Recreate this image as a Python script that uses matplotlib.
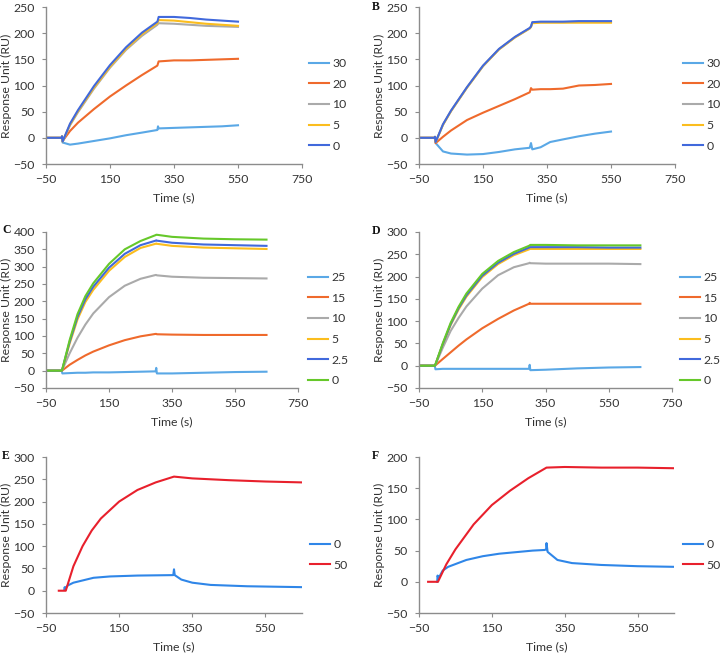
import numpy as np
import matplotlib
matplotlib.use("Agg")
import matplotlib.pyplot as plt

plt.rcParams['font.family'] = ['Lato', 'DejaVu Sans']
FS = 8.8
TXT = "#333333"
AXC = "#8c8c8c"

# Excel-like palette
LB, OR, GR, YE, BL, GN = "#5aa8e6", "#ef6a2c", "#aaaaaa", "#fbbd1e", "#4169dc", "#66c82a"
EB, ER = "#2f86e8", "#e8202c"

# ---- panel A (s, RU) ----
T_A = [-50, -1, 0, 2, 25, 50, 100, 150, 200, 250, 298, 300, 302, 350, 400, 450, 500, 550]
A_30 = [0, 0, -3, -9, -13, -11, -6, -1, 5, 10, 15, 22, 18, 19, 20, 21, 22, 24]
A_20 = [0, 0, 2, -6, 13, 29, 55, 79, 100, 120, 138, 142, 146, 148, 148, 149, 150, 151]
A_10 = [0, 0, 3, -7, 24, 49, 94, 134, 168, 195, 216, 218, 219, 218, 216, 214, 213, 212]
A_5 = [0, 0, 3, -7, 25, 51, 96, 136, 170, 198, 219, 222, 225, 224, 221, 218, 216, 214]
A_0 = [0, 0, 3, -7, 27, 53, 99, 139, 173, 201, 222, 226, 231, 231, 229, 226, 224, 222]

# ---- panel B ----
T_B = [-50, -1, 0, 2, 25, 50, 100, 150, 200, 250, 296, 300, 304, 330, 360, 400, 450, 500, 550]
B_30 = [0, 0, -3, -10, -26, -30, -32, -31, -27, -22, -19, -10, -22, -18, -8, -3, 3, 8, 12]
B_20 = [0, 0, -2, -10, 2, 14, 34, 48, 61, 74, 87, 95, 92, 93, 93, 94, 100, 101, 103]
B_10 = [0, 0, 2, -8, 25, 51, 96, 137, 169, 192, 209, 212, 220, 221, 221, 221, 222, 222, 222]
B_5 = [0, 0, 2, -8, 25, 51, 96, 137, 169, 192, 209, 212, 219, 220, 220, 220, 220, 220, 220]
B_0 = [0, 0, 2, -8, 26, 52, 97, 138, 170, 193, 210, 213, 221, 222, 222, 222, 223, 223, 223]

# ---- panel C ----
T_C = [-50, -1, 0, 2, 25, 50, 75, 100, 150, 200, 250, 298, 300, 302, 350, 450, 550, 650]
C_25 = [0, 0, 0, -8, -7, -6, -6, -5, -5, -4, -3, -2, 8, -8, -8, -6, -4, -3]
C_15 = [0, 0, 0, 1, 17, 31, 44, 55, 73, 88, 99, 106, 106, 105, 104, 103, 103, 103]
C_10 = [0, 0, 0, 3, 50, 95, 133, 165, 212, 245, 265, 276, 276, 275, 271, 268, 267, 266]
C_5 = [0, 0, 0, 4, 78, 148, 198, 233, 288, 328, 354, 366, 367, 366, 360, 355, 353, 351]
C_2_5 = [0, 0, 0, 5, 83, 155, 206, 242, 297, 337, 362, 375, 376, 375, 369, 364, 362, 360]
C_0 = [0, 0, 0, 5, 88, 163, 215, 252, 308, 350, 374, 391, 392, 392, 386, 381, 379, 378]

# ---- panel D ----
T_D = T_C
D_25 = [0, 0, 0, -8, -7, -7, -7, -7, -7, -7, -7, -7, 2, -10, -9, -6, -4, -3]
D_15 = [0, 0, 0, 1, 15, 30, 45, 59, 84, 105, 124, 139, 141, 139, 139, 139, 139, 139]
D_10 = [0, 0, 0, 2, 40, 78, 107, 133, 173, 203, 221, 230, 231, 230, 229, 229, 229, 228]
D_5 = [0, 0, 0, 3, 47, 91, 126, 155, 199, 228, 248, 261, 262, 262, 262, 262, 262, 262]
D_2_5 = [0, 0, 0, 3, 48, 93, 129, 158, 202, 231, 251, 265, 266, 266, 266, 266, 265, 265]
D_0 = [0, 0, 0, 3, 50, 96, 132, 162, 206, 235, 255, 269, 270, 271, 271, 270, 270, 270]

# ---- panel E ----
T_E0 = [0, 1, 2, 10, 25, 50, 80, 125, 200, 298, 300, 302, 320, 350, 400, 500, 650]
E_0 = [2, 8, 5, 12, 18, 23, 29, 32, 34, 35, 48, 35, 25, 18, 13, 10, 8]
T_E50 = [-15, 4, 25, 50, 75, 100, 150, 200, 250, 300, 350, 450, 550, 650]
E_50 = [0, 0, 55, 100, 135, 162, 200, 226, 243, 256, 252, 248, 245, 243]

# ---- panel F ----
T_F0 = [0, 1, 3, 15, 30, 80, 125, 170, 262, 295, 299, 300, 303, 330, 370, 450, 550, 650]
F_0 = [0, 10, 5, 18, 24, 35, 41, 45, 50, 51, 52, 62, 48, 35, 30, 27, 25, 24]
T_F50 = [-25, 2, 25, 50, 100, 150, 200, 250, 300, 350, 450, 550, 650]
F_50 = [0, 0, 28, 52, 92, 123, 146, 166, 183, 184, 183, 183, 182]

W, H = 720, 654
fig = plt.figure(figsize=(W / 100, H / 100), dpi=100)


def px_axes(l, t, r, b):
    return fig.add_axes([l / W, 1 - b / H, (r - l) / W, (b - t) / H])


def style(ax, xlim, xticks, ylim, yticks):
    ax.set_xlim(*xlim); ax.set_ylim(*ylim)
    ax.set_xticks(xticks); ax.set_yticks(yticks)
    for s in ("top", "right"):
        ax.spines[s].set_visible(False)
    for s in ("left", "bottom"):
        ax.spines[s].set_color(AXC)
        ax.spines[s].set_linewidth(1.0)
    ax.tick_params(direction="out", length=3, width=0.8, color=AXC,
                   labelsize=FS, labelcolor=TXT)
    ax.tick_params(axis="x", pad=4.5)
    ax.tick_params(axis="y", pad=5)
    ax.patch.set_alpha(0)


def labels(l, t, r, b, ylab_x):
    fig.text(ylab_x / W, 1 - (t + b) / 2 / H, "Response Unit (RU)", rotation=90,
             ha="center", va="center", fontsize=FS, color=TXT)
    fig.text((l + r) / 2 / W, 1 - (b + 34) / H, "Time (s)",
             ha="center", va="center", fontsize=FS, color=TXT)


def legend(ax, x, y):
    ax.legend(loc="upper left", bbox_to_anchor=(x / W, 1 - y / H),
              bbox_transform=fig.transFigure, frameon=False, fontsize=FS,
              handlelength=1.65, handletextpad=0.25, labelspacing=0.79,
              borderpad=0, borderaxespad=0, labelcolor=TXT)


def letter(x, y, s):
    fig.text(x / W, 1 - y / H, s, fontsize=8.5, fontweight="bold",
             family="Liberation Serif", ha="left", va="center", color="#111111")


LW = 1.5
xt4 = [-50, 150, 350, 550, 750]

# A
r = (46, 7, 302, 164)
ax = px_axes(*r)
for y, c, lab in [(A_30, LB, "30"), (A_20, OR, "20"), (A_10, GR, "10"), (A_5, YE, "5"), (A_0, BL, "0")]:
    ax.plot(T_A, y, color=c, lw=LW, label=lab)
style(ax, (-50, 750), xt4, (-50, 250), np.arange(-50, 251, 50))
labels(*r, 6); legend(ax, 309, 58)

# B
r = (419, 7, 675, 164)
ax = px_axes(*r)
for y, c, lab in [(B_30, LB, "30"), (B_20, OR, "20"), (B_10, GR, "10"), (B_5, YE, "5"), (B_0, BL, "0")]:
    ax.plot(T_B, y, color=c, lw=LW, label=lab)
style(ax, (-50, 750), xt4, (-50, 250), np.arange(-50, 251, 50))
labels(*r, 379); legend(ax, 683, 58); letter(372, 7, "B")

# C
r = (46, 232, 298, 388)
ax = px_axes(*r)
for y, c, lab in [(C_25, LB, "25"), (C_15, OR, "15"), (C_10, GR, "10"), (C_5, YE, "5"),
                  (C_2_5, BL, "2.5"), (C_0, GN, "0")]:
    ax.plot(T_C, y, color=c, lw=LW, label=lab)
style(ax, (-50, 750), xt4, (-50, 400), np.arange(-50, 401, 50))
labels(*r, 6); legend(ax, 308, 272); letter(2, 230, "C")

# D
r = (419, 232, 672, 388)
ax = px_axes(*r)
for y, c, lab in [(D_25, LB, "25"), (D_15, OR, "15"), (D_10, GR, "10"), (D_5, YE, "5"),
                  (D_2_5, BL, "2.5"), (D_0, GN, "0")]:
    ax.plot(T_D, y, color=c, lw=LW, label=lab)
style(ax, (-50, 750), xt4, (-50, 300), np.arange(-50, 301, 50))
labels(*r, 379); legend(ax, 680, 272); letter(372, 231, "D")

# E
r = (46, 457, 302, 613)
ax = px_axes(*r)
ax.plot(T_E0, E_0, color=EB, lw=LW, label="0")
ax.plot(T_E50, E_50, color=ER, lw=LW, label="50")
style(ax, (-50, 650), [-50, 150, 350, 550], (-50, 300), np.arange(-50, 301, 50))
labels(*r, 6); legend(ax, 310, 539); letter(2, 456, "E")

# F
r = (419, 457, 674, 613)
ax = px_axes(*r)
ax.plot(T_F0, F_0, color=EB, lw=LW, label="0")
ax.plot(T_F50, F_50, color=ER, lw=LW, label="50")
style(ax, (-50, 650), [-50, 150, 350, 550], (-50, 200), np.arange(-50, 201, 50))
labels(*r, 379); legend(ax, 683, 539); letter(372, 456, "F")

fig.savefig("out.png", dpi=100)
